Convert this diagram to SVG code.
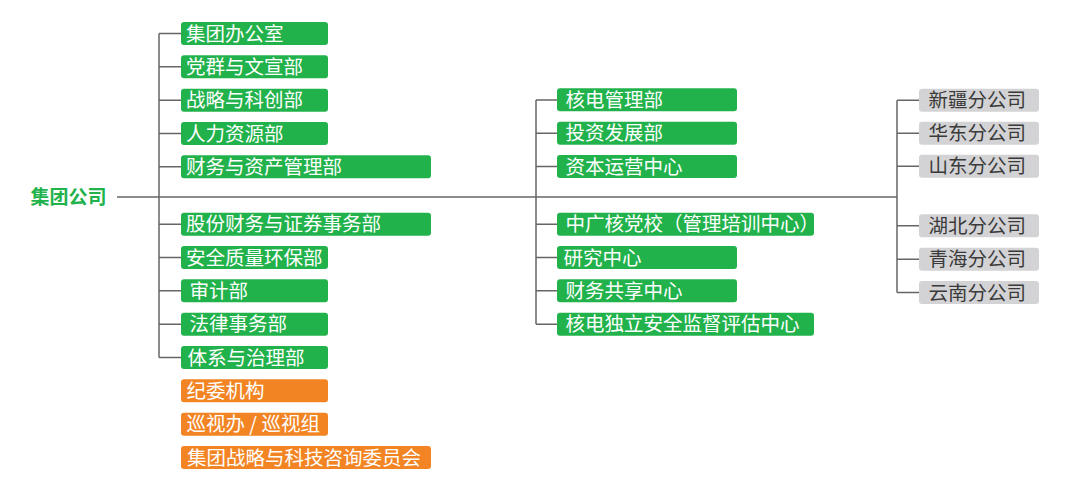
<svg xmlns="http://www.w3.org/2000/svg" width="1079" height="488" viewBox="0 0 1079 488">
<style>
text{font-family:"Noto Sans CJK SC","Noto Sans",sans-serif;font-size:19.5px}
.g rect{fill:#22b24c}
.o rect{fill:#f28423}
.s rect{fill:#d3d3d5}
.g text,.o text{fill:#fff}
.s text{fill:#3a3a3a}
.root{fill:#22b24c;font-weight:bold;font-size:19px}
.c{stroke:#666;stroke-width:1.5;fill:none}
</style>
<rect width="1079" height="488" fill="#fff"/>
<g id="connectors" class="c">
<path d="M117 197H897"/>
<path d="M159 33.5V357.5M159 33.5H181M159 66.8H181M159 100.2H181M159 133.5H181M159 166.8H181M159 224.2H181M159 257.5H181M159 290.8H181M159 324.2H181M159 357.5H181"/>
<path d="M536 100V324.2M536 100H557M536 133.2H557M536 166.5H557M536 224.2H557M536 257.5H557M536 290.8H557M536 324.2H557"/>
<path d="M897 100.2V292.5M897 100.2H919M897 133.2H919M897 166.2H919M897 225.8H919M897 259.2H919M897 292.5H919"/>
</g>
<g id="root"><text class="root" x="30.5" y="204">集团公司</text></g>
<g id="n1" class="g"><rect x="181" y="22" width="147" height="23" rx="3"/><text x="186" y="40.6">集团办公室</text></g>
<g id="n2" class="g"><rect x="181" y="55.3" width="147" height="23" rx="3"/><text x="186" y="73.9">党群与文宣部</text></g>
<g id="n3" class="g"><rect x="181" y="88.7" width="147" height="23" rx="3"/><text x="186" y="107.3">战略与科创部</text></g>
<g id="n4" class="g"><rect x="181" y="122" width="147" height="23" rx="3"/><text x="186" y="140.6">人力资源部</text></g>
<g id="n5" class="g"><rect x="181" y="155.3" width="250" height="23" rx="3"/><text x="186" y="173.9">财务与资产管理部</text></g>
<g id="n6" class="g"><rect x="181" y="212.7" width="250" height="23" rx="3"/><text x="186" y="231.3">股份财务与证券事务部</text></g>
<g id="n7" class="g"><rect x="181" y="246" width="147" height="23" rx="3"/><text x="186" y="264.6">安全质量环保部</text></g>
<g id="n8" class="g"><rect x="181" y="279.3" width="147" height="23" rx="3"/><text x="189.5" y="297.9">审计部</text></g>
<g id="n9" class="g"><rect x="181" y="312.7" width="147" height="23" rx="3"/><text x="189.5" y="331.3">法律事务部</text></g>
<g id="n10" class="g"><rect x="181" y="346" width="147" height="23" rx="3"/><text x="187.5" y="364.6">体系与治理部</text></g>
<g id="n11" class="o"><rect x="181" y="379.3" width="147" height="23" rx="3"/><text x="186.5" y="397.9">纪委机构</text></g>
<g id="n12" class="o"><rect x="181" y="412.7" width="147" height="23" rx="3"/><text x="186.5" y="431.3">巡视办 / 巡视组</text></g>
<g id="n13" class="o"><rect x="181" y="446" width="250" height="23" rx="3"/><text x="187" y="464.6">集团战略与科技咨询委员会</text></g>
<g id="m1" class="g"><rect x="557" y="88.3" width="180" height="23" rx="3"/><text x="565.5" y="106.9">核电管理部</text></g>
<g id="m2" class="g"><rect x="557" y="121.7" width="180" height="23" rx="3"/><text x="565.5" y="140.3">投资发展部</text></g>
<g id="m3" class="g"><rect x="557" y="155" width="180" height="23" rx="3"/><text x="565.5" y="173.6">资本运营中心</text></g>
<g id="m4" class="g"><rect x="557" y="212.7" width="257" height="23" rx="3"/><text x="565.5" y="231.3">中广核党校（管理培训中心）</text></g>
<g id="m5" class="g"><rect x="557" y="246" width="180" height="23" rx="3"/><text x="563.5" y="264.6">研究中心</text></g>
<g id="m6" class="g"><rect x="557" y="279.3" width="180" height="23" rx="3"/><text x="565.5" y="297.9">财务共享中心</text></g>
<g id="m7" class="g"><rect x="557" y="312.7" width="257" height="23" rx="3"/><text x="565.5" y="331.3">核电独立安全监督评估中心</text></g>
<g id="r1" class="s"><rect x="919" y="88.7" width="120" height="23" rx="3"/><text x="928.5" y="107.3">新疆分公司</text></g>
<g id="r2" class="s"><rect x="919" y="121.7" width="120" height="23" rx="3"/><text x="928.5" y="140.3">华东分公司</text></g>
<g id="r3" class="s"><rect x="919" y="154.7" width="120" height="23" rx="3"/><text x="928.5" y="173.3">山东分公司</text></g>
<g id="r4" class="s"><rect x="919" y="214.3" width="120" height="23" rx="3"/><text x="928.5" y="232.9">湖北分公司</text></g>
<g id="r5" class="s"><rect x="919" y="247.7" width="120" height="23" rx="3"/><text x="928.5" y="266.3">青海分公司</text></g>
<g id="r6" class="s"><rect x="919" y="281" width="120" height="23" rx="3"/><text x="928.5" y="299.6">云南分公司</text></g>
</svg>
